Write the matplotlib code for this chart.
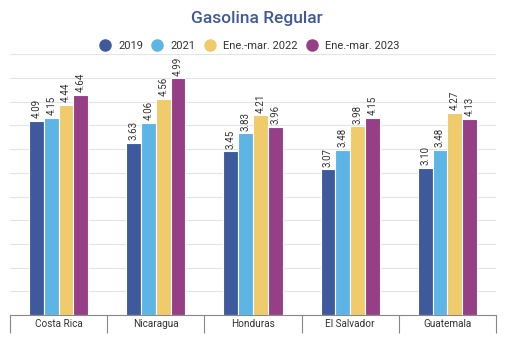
import matplotlib.pyplot as plt
from matplotlib.lines import Line2D
import numpy as np

plt.rcParams['font.family'] = ['Roboto', 'DejaVu Sans']

countries = ['Costa Rica', 'Nicaragua', 'Honduras', 'El Salvador', 'Guatemala']
series = ['2019', '2021', 'Ene.-mar. 2022', 'Ene.-mar. 2023']
v2019 = [4.09, 3.63, 3.45, 3.07, 3.10]
v2021 = [4.15, 4.06, 3.83, 3.48, 3.48]
v2022 = [4.44, 4.56, 4.21, 3.98, 4.27]
v2023 = [4.64, 4.99, 3.96, 4.15, 4.13]
colors = ['#3f5a9c', '#5cb5e5', '#f0cb6c', '#963f87']

fig = plt.figure(figsize=(5.14, 3.52), dpi=100)
ax = fig.add_axes([10/514, 37/352, 486/514, 260.7/352])

x = np.arange(len(countries))
w = 0.1525
for i, vals in enumerate([v2019, v2021, v2022, v2023]):
    xs = x + (i - 1.5) * w
    ax.bar(xs, vals, width=w, color=colors[i], edgecolor='white', linewidth=0.8, zorder=3)
    for xi, v in zip(xs, vals):
        ax.text(xi, v + 0.06, f'{v:.2f}', rotation=90, ha='center', va='bottom',
                fontsize=7, color='#333333', zorder=4)

ax.set_xlim(-0.5, 4.5)
ax.set_ylim(0, 5.5)
ax.set_yticks(np.arange(0, 5.51, 0.5))
ax.yaxis.grid(True, color='#e4e4e4', linewidth=0.8, zorder=0)
ax.tick_params(axis='y', length=0, labelleft=False)
for s in ['left', 'right', 'top']:
    ax.spines[s].set_visible(False)
ax.spines['bottom'].set_color('#888888')
ax.spines['bottom'].set_zorder(5)

ax.set_xticks(x)
ax.set_xticklabels(countries, fontsize=7.2, color='#333333')
ax.tick_params(axis='x', which='major', length=0, pad=3)
ax.set_xticks(np.arange(-0.5, 4.6, 1), minor=True)
ax.tick_params(axis='x', which='minor', length=12.7, width=0.8, color='#888888', direction='out')

fig.text(0.5, 1 - 18.5/352, 'Gasolina Regular', ha='center', va='center',
         fontsize=12.5, fontweight='medium', color='#3f5a9c')

handles = [Line2D([], [], marker='o', linestyle='', markersize=8,
                  markerfacecolor=c, markeredgecolor=c) for c in colors]
fig.legend(handles, series, loc='center', bbox_to_anchor=(249.5/514, 1 - 46/352),
           ncol=4, frameon=False, fontsize=8, handletextpad=0.72,
           columnspacing=0.76, handlelength=1.0, labelcolor='#333333')

fig.savefig('out.png', dpi=100)
